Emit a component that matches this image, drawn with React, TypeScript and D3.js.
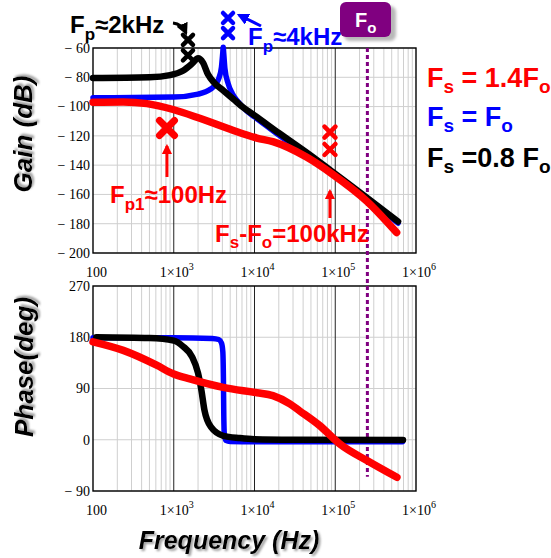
import * as d3 from "d3";

// Gain (dB) vs frequency (Hz)
const gainRed: [number, number][] = [
  [100, -97], [237, -96.8], [466, -98], [980, -102], [2100, -108], [5000, -115.5],
  [10700, -121.5], [16900, -124], [44000, -134.5], [94000, -146.5], [250000, -165], [575000, -186],
];
const gainBlue: [number, number][] = [
  [100, -94], [1000, -93.5], [2000, -91.5], [2870, -88], [3300, -85], [3600, -81],
  [3900, -73], [4050, -63], [4100, -59.5], [4150, -63], [4300, -74], [4700, -84],
  [5300, -91], [6100, -96], [8200, -103.5], [10000, -107], [20000, -119.5],
  [50000, -135], [100000, -147], [250000, -163.5], [600000, -179.5],
];
const gainBlack: [number, number][] = [
  [100, -80.5], [500, -80], [900, -78.5], [1300, -75.5], [1700, -70.5], [2000, -67],
  [2300, -70], [2650, -78], [3200, -84], [4100, -89], [5500, -95], [7200, -100.5],
  [10000, -106], [20000, -118], [50000, -133.5], [100000, -146], [250000, -162.5], [600000, -178.5],
];

// Phase (deg) vs frequency (Hz)
const phaseRed: [number, number][] = [
  [100, 172], [237, 157], [614, 131], [980, 116], [1580, 107], [4100, 92], [10700, 82.5],
  [16900, 77.5], [27400, 63], [36000, 51], [64000, 25], [114000, -7.5], [250000, -37], [580000, -66],
];
const phaseBlue: [number, number][] = [
  [100, 179], [1000, 179], [3000, 178], [3600, 176], [3900, 170], [4050, 155],
  [4120, 110], [4160, 50], [4220, 12], [4400, -1], [5000, -3], [10000, -3.5],
  [100000, -3.5], [680000, -3.5],
];
const phaseBlack: [number, number][] = [
  [110, 180], [500, 178.5], [1000, 174], [1300, 164], [1680, 146], [2000, 117],
  [2200, 87], [2400, 52], [2900, 22], [4100, 7], [6600, 3], [10000, 1],
  [30000, 0], [690000, -0.5],
];

// annotation markers (freq, dB)
const marksBlack: [number, number][] = [[1500, -54.5], [1500, -65]];
const marksBlue: [number, number][] = [[4700, -39.5], [4700, -49.8]];
const marksRed: [number, number][] = [[86000, -117.5], [86000, -129.3]];
const markFp1: [number, number] = [824, -114.6];

const Fo = 250000;
const gainTicks = [-60, -80, -100, -120, -140, -160, -180, -200];
const phaseTicks = [270, 180, 90, 0, -90];
const decades = [100, 1e3, 1e4, 1e5, 1e6];

const W = 551;
const H = 558;
const left = 93;
const right = 416;

const x = d3.scaleLog().domain([100, 1e6]).range([left, right]);
const yG = d3.scaleLinear().domain([-200, -60]).range([253, 48]);
const yP = d3.scaleLinear().domain([-90, 270]).range([491, 286]);

const SANS = "'Liberation Sans', Arial, sans-serif";
const SERIF = "'Liberation Serif', 'Times New Roman', serif";

function fmt(v: number) {
  return v < 0 ? `\u2212 ${Math.abs(v)}` : `${v}`;
}

function Cross({ cx, cy, r, w, color }: { cx: number; cy: number; r: number; w: number; color: string }) {
  return (
    <path
      d={`M${cx - r},${cy - r}L${cx + r},${cy + r}M${cx - r},${cy + r}L${cx + r},${cy - r}`}
      stroke={color}
      strokeWidth={w}
      strokeLinecap="round"
      fill="none"
    />
  );
}

function Panel({ y, ticks, top, bottom }: { y: d3.ScaleLinear<number, number>; ticks: number[]; top: number; bottom: number }) {
  const minors = x.ticks().filter((t) => !decades.some((d) => Math.abs(d - t) < 1e-6));
  return (
    <g>
      {minors.map((t) => (
        <line key={"m" + t} x1={x(t)} x2={x(t)} y1={top} y2={bottom} stroke="#cfcfcf" strokeWidth={1} />
      ))}
      {ticks.map((t) => (
        <line key={"h" + t} x1={left} x2={right} y1={y(t)} y2={y(t)} stroke="#cfcfcf" strokeWidth={1} />
      ))}
      {decades.slice(1, -1).map((d) => (
        <line key={"d" + d} x1={x(d)} x2={x(d)} y1={top} y2={bottom} stroke="#222" strokeWidth={1} />
      ))}
      <rect x={left} y={top} width={right - left} height={bottom - top} fill="none" stroke="#000" strokeWidth={1.4} />
      {ticks.map((t) => (
        <text key={"l" + t} x={90} y={y(t)} dy="0.35em" textAnchor="end" fontFamily={SERIF} fontSize={14} style={{ whiteSpace: "pre" }}>
          {fmt(t)}
        </text>
      ))}
      {decades.map((d, i) =>
        i === 0 ? (
          <text key={"x" + d} x={x(d) - 7} y={bottom + 24} fontFamily={SERIF} fontSize={14}>
            100
          </text>
        ) : (
          <text key={"x" + d} x={x(d) - 14} y={bottom + 24} fontFamily={SERIF} fontSize={14}>
            1×10
            <tspan fontSize={10} dy={-7}>
              {Math.round(Math.log10(d))}
            </tspan>
          </text>
        )
      )}
    </g>
  );
}

export default function App() {
  const lineG = d3
    .line<[number, number]>()
    .x((d) => x(d[0]))
    .y((d) => yG(d[1]))
    .curve(d3.curveMonotoneX);
  const lineP = d3
    .line<[number, number]>()
    .x((d) => x(d[0]))
    .y((d) => yP(d[1]))
    .curve(d3.curveMonotoneX);

  const red = "#ff0000";
  const blue = "#0000ff";
  const purple = "#800080";

  const title = { fontFamily: SANS, fontWeight: 700, fontStyle: "italic" as const, fontSize: 26, filter: "url(#shadow)" };
  const ann = { fontFamily: SANS, fontWeight: 700, fontSize: 24, style: { whiteSpace: "pre" as const } };
  const leg = { fontFamily: SANS, fontWeight: 700, fontSize: 27, style: { whiteSpace: "pre" as const } };

  return (
    <svg width={W} height={H} style={{ position: "absolute", left: 0, top: 0, background: "#fff" }}>
      <defs>
        <filter id="shadow" x="-20%" y="-20%" width="140%" height="140%">
          <feDropShadow dx={2} dy={2} stdDeviation={1.2} floodColor="#777" floodOpacity={0.7} />
        </filter>
        <filter id="blur">
          <feGaussianBlur stdDeviation={1.5} />
        </filter>
        <marker id="ahK" viewBox="0 0 10 10" refX={8} refY={5} markerWidth={4} markerHeight={4} orient="auto">
          <path d="M0,0L10,5L0,10Z" fill="#000" />
        </marker>
        <marker id="ahB" viewBox="0 0 10 10" refX={8} refY={5} markerWidth={4} markerHeight={4} orient="auto">
          <path d="M0,0L10,5L0,10Z" fill={blue} />
        </marker>
        <marker id="ahR" viewBox="0 0 10 10" refX={8} refY={5} markerWidth={3.5} markerHeight={3.5} orient="auto">
          <path d="M0,0L10,5L0,10Z" fill={red} />
        </marker>
      </defs>

      <Panel y={yG} ticks={gainTicks} top={yG(-60)} bottom={yG(-200)} />
      <Panel y={yP} ticks={phaseTicks} top={yP(270)} bottom={yP(-90)} />

      {/* Fo dotted line */}
      <line x1={x(Fo)} x2={x(Fo)} y1={yG(-60)} y2={yP(-65)} stroke={purple} strokeWidth={3} strokeDasharray="4,3" />

      {/* gain curves */}
      <path d={lineG(gainBlue) ?? ""} fill="none" stroke={blue} strokeWidth={5.5} strokeLinecap="round" strokeLinejoin="round" />
      <path d={lineG(gainBlack) ?? ""} fill="none" stroke="#000" strokeWidth={6.5} strokeLinecap="round" strokeLinejoin="round" />
      <path d={lineG(gainRed) ?? ""} fill="none" stroke={red} strokeWidth={7.5} strokeLinecap="round" strokeLinejoin="round" />

      {/* phase curves */}
      <path d={lineP(phaseBlue) ?? ""} fill="none" stroke={blue} strokeWidth={5.5} strokeLinecap="round" strokeLinejoin="round" />
      <path d={lineP(phaseBlack) ?? ""} fill="none" stroke="#000" strokeWidth={6.5} strokeLinecap="round" strokeLinejoin="round" />
      <path d={lineP(phaseRed) ?? ""} fill="none" stroke={red} strokeWidth={7.5} strokeLinecap="round" strokeLinejoin="round" />

      {/* markers */}
      {marksBlack.map((m, i) => (
        <Cross key={"k" + i} cx={x(m[0])} cy={yG(m[1])} r={5} w={4.5} color="#000" />
      ))}
      {marksBlue.map((m, i) => (
        <Cross key={"b" + i} cx={x(m[0])} cy={yG(m[1])} r={5} w={4.5} color={blue} />
      ))}
      {marksRed.map((m, i) => (
        <Cross key={"r" + i} cx={x(m[0])} cy={yG(m[1])} r={5.5} w={4.5} color={red} />
      ))}
      <Cross cx={x(markFp1[0])} cy={yG(markFp1[1])} r={7.5} w={7} color={red} />

      {/* arrows */}
      <path d={`M173,23 Q182,24 186,33`} fill="none" stroke="#000" strokeWidth={3} markerEnd="url(#ahK)" />
      <line x1={261} y1={26} x2={239} y2={15} stroke={blue} strokeWidth={3} markerEnd="url(#ahB)" />
      <line x1={x(markFp1[0])} y1={177} x2={x(markFp1[0])} y2={146} stroke={red} strokeWidth={3} markerEnd="url(#ahR)" />
      <line x1={x(marksRed[0][0])} y1={218} x2={x(marksRed[0][0])} y2={191} stroke={red} strokeWidth={3} markerEnd="url(#ahR)" />

      {/* annotation texts */}
      <text x={70} y={33} {...ann} fill="#000">
        F<tspan fontSize={17} dy={7}>p</tspan>
        <tspan dy={-7}>≈2kHz</tspan>
      </text>
      <text x={248} y={45} {...ann} fill={blue}>
        F<tspan fontSize={17} dy={7}>p</tspan>
        <tspan dy={-7}>≈4kHz</tspan>
      </text>
      <text x={110} y={203} {...ann} fill={red}>
        F<tspan fontSize={17} dy={7}>p1</tspan>
        <tspan dy={-7}>≈100Hz</tspan>
      </text>
      <text x={215} y={242} {...ann} fill={red}>
        F<tspan fontSize={17} dy={6}>s</tspan>
        <tspan dy={-6}>-F</tspan>
        <tspan fontSize={17} dy={6}>o</tspan>
        <tspan dy={-6}>=100kHz</tspan>
      </text>

      {/* Fo box */}
      <rect x={344} y={6} width={52} height={35} rx={6} fill="#b8b8b8" filter="url(#blur)" />
      <rect x={340} y={2} width={51} height={35} rx={6} fill={purple} />
      <text x={355} y={27} fontFamily={SANS} fontWeight={700} fontSize={20} fill="#fff">
        F<tspan fontSize={15} dy={6}>o</tspan>
      </text>

      {/* legend */}
      <text x={427} y={87} {...leg} fill={red}>
        F<tspan fontSize={19} dy={6}>s</tspan>
        <tspan dy={-6}> = 1.4F</tspan>
        <tspan fontSize={19} dy={6}>o</tspan>
      </text>
      <text x={427} y={126} {...leg} fill={blue}>
        F<tspan fontSize={19} dy={6}>s</tspan>
        <tspan dy={-6}> = F</tspan>
        <tspan fontSize={19} dy={6}>o</tspan>
      </text>
      <text x={427} y={167} {...leg} fill="#000">
        F<tspan fontSize={19} dy={6}>s</tspan>
        <tspan dy={-6}> =0.8 F</tspan>
        <tspan fontSize={19} dy={6}>o</tspan>
      </text>

      {/* axis titles */}
      <text transform="translate(32,134) rotate(-90)" textAnchor="middle" {...title}>
        Gain (dB)
      </text>
      <text transform="translate(33,367) rotate(-90)" textAnchor="middle" {...title}>
        Phase(deg)
      </text>
      <text x={229} y={549} textAnchor="middle" {...title} fontSize={25}>
        Frequency (Hz)
      </text>
    </svg>
  );
}
